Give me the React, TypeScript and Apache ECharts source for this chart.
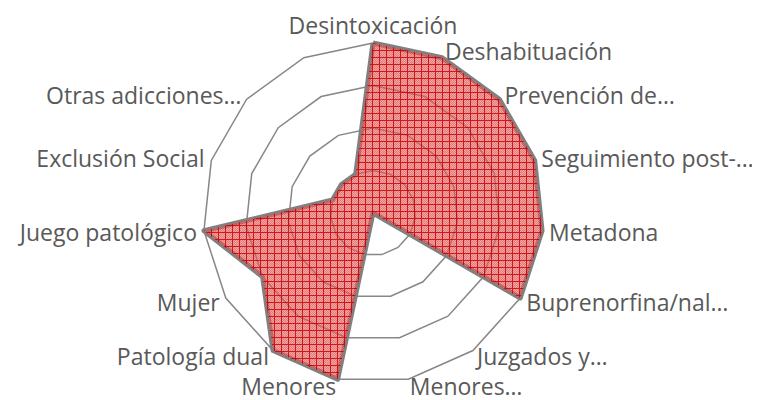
import React, { useEffect, useRef } from "react";
import * as echarts from "echarts";

// Categories in clockwise order starting at the top
const categories: string[] = [
  "Desintoxicación",
  "Deshabituación",
  "Prevención de…",
  "Seguimiento post-…",
  "Metadona",
  "Buprenorfina/nal…",
  "Juzgados y…",
  "Menores…",
  "Menores",
  "Patología dual",
  "Mujer",
  "Juego patológico",
  "Exclusión Social",
  "Otras adicciones…",
  "",
];
const values: number[] = [4, 4, 4, 4, 4, 4, 0, 0, 4, 4, 3, 4, 1, 1, 1];
const axisMax = 4;

const FONT = "Open Sans";
const FONT_SIZE = 23;
const TEXT_COLOR = "#595959";

function makePattern(): HTMLCanvasElement {
  const c = document.createElement("canvas");
  c.width = 7;
  c.height = 7;
  const ctx = c.getContext("2d")!;
  for (let y = 0; y < 7; y++) {
    for (let x = 0; x < 7; x++) {
      if (x === 0 || y === 0) {
        ctx.fillStyle = "rgba(205,0,0,0.9)";
      } else if ((x + y) % 2 === 0) {
        ctx.fillStyle = "rgba(222,70,70,0.72)";
      } else {
        ctx.fillStyle = "rgba(230,110,110,0.62)";
      }
      ctx.fillRect(x, y, 1, 1);
    }
  }
  return c;
}

export default function App() {
  const ref = useRef<HTMLDivElement>(null);
  useEffect(() => {
    if (!ref.current) return;
    const chart = echarts.init(ref.current, null, { renderer: "svg" });
    const n = categories.length;
    // ECharts places indicators counter-clockwise; reorder to draw clockwise
    const order = [0, ...Array.from({ length: n - 1 }, (_, i) => n - 1 - i)];
    const indicator = order.map((i) => ({ name: categories[i], max: axisMax, min: 0 }));
    const data = order.map((i) => values[i]);
    chart.setOption({
      animation: false,
      radar: {
        center: [365, 205],
        radius: 170,
        startAngle: 90,
        splitNumber: 4,
        shape: "polygon",
        nameGap: 7,
        axisName: {
          color: TEXT_COLOR,
          fontFamily: FONT,
          fontSize: FONT_SIZE,
        },
        axisLine: { show: false },
        axisTick: { show: false },
        splitArea: { show: false },
        splitLine: { lineStyle: { color: "#878787", width: 1.5 } },
        indicator,
      },
      series: [
        {
          type: "radar",
          symbol: "none",
          lineStyle: { color: "#808080", width: 5 },
          areaStyle: {
            opacity: 1,
            color: { image: makePattern(), repeat: "repeat", imageWidth: 7, imageHeight: 7 },
          },
          data: [{ value: data, name: "Programas" }],
        },
      ],
    });
    return () => chart.dispose();
  }, []);
  return <div ref={ref} style={{ width: 744, height: 392 }} />;
}
